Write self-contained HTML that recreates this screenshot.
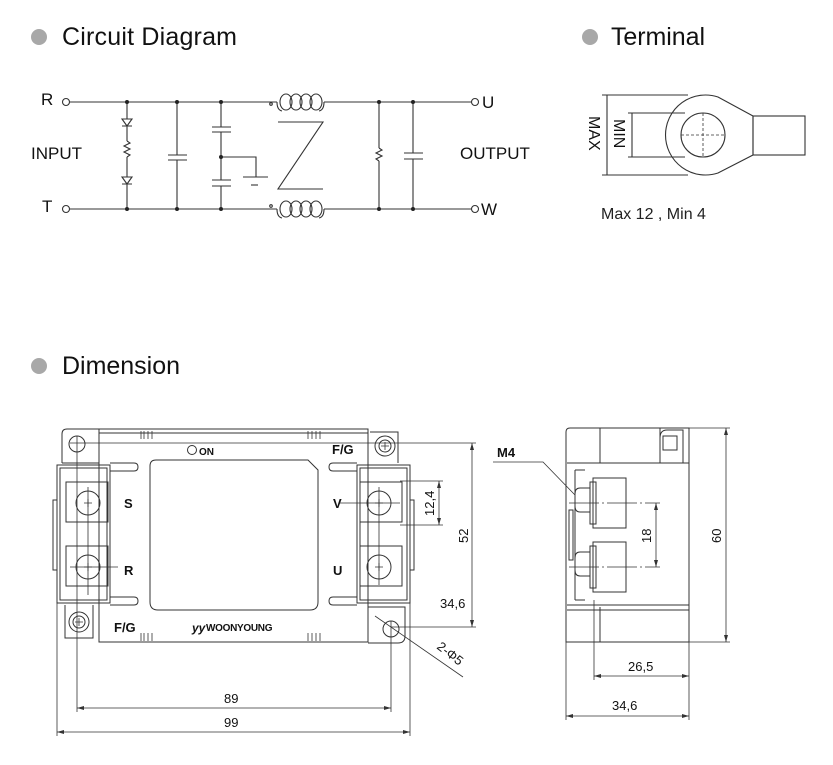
<!DOCTYPE html>
<html><head><meta charset="utf-8"><style>
html,body{margin:0;padding:0;background:#fff;}
svg{display:block;font-family:"Liberation Sans",sans-serif;}
</style></head><body>
<svg width="833" height="765" viewBox="0 0 833 765" xmlns="http://www.w3.org/2000/svg">
<!-- headers -->
<circle cx="39" cy="37" r="8" fill="#a8a8a8"/>
<text x="62" y="45" font-size="25" fill="#111" textLength="175">Circuit  Diagram</text>
<circle cx="590" cy="37" r="8" fill="#a8a8a8"/>
<text x="611" y="45" font-size="25" fill="#111" textLength="94">Terminal</text>
<circle cx="39" cy="366" r="8" fill="#a8a8a8"/>
<text x="62" y="374" font-size="25" fill="#111" textLength="118">Dimension</text>

<!-- circuit -->
<g stroke="#333" stroke-width="1.1" fill="none">
<circle cx="66" cy="102" r="3.5"/><circle cx="66" cy="209" r="3.5"/>
<circle cx="475" cy="102" r="3.5"/><circle cx="475" cy="209" r="3.5"/>
<line x1="70" y1="102" x2="277" y2="102"/><line x1="324" y1="102" x2="471" y2="102"/>
<line x1="70" y1="209" x2="277" y2="209"/><line x1="324" y1="209" x2="471" y2="209"/>
<g>
<path d="M277 102 q0 8 5 9"/><path d="M324 102 q0 8 -5 9"/>
<ellipse cx="286" cy="102" rx="6" ry="8"/><ellipse cx="296" cy="102" rx="6" ry="8"/>
<ellipse cx="306" cy="102" rx="6" ry="8"/><ellipse cx="316" cy="102" rx="6" ry="8"/>
<path d="M277 209 q0 8 5 9"/><path d="M324 209 q0 8 -5 9"/>
<ellipse cx="286" cy="209" rx="6" ry="8"/><ellipse cx="296" cy="209" rx="6" ry="8"/>
<ellipse cx="306" cy="209" rx="6" ry="8"/><ellipse cx="316" cy="209" rx="6" ry="8"/>
</g>
<circle cx="271" cy="104" r="1.3"/><circle cx="271" cy="206" r="1.3"/>
<path d="M278 122 H323 L278 189 H323"/>
<line x1="127" y1="102" x2="127" y2="119"/>
<path d="M122 119 H132 L127 126 Z M122 126 H132"/>
<line x1="127" y1="126" x2="127" y2="141"/>
<path d="M127 141 l3 2 l-6 3 l6 3 l-6 3 l6 3 l-3 2"/>
<line x1="127" y1="157" x2="127" y2="177"/>
<path d="M122 177 H132 L127 184 Z M122 184 H132"/>
<line x1="127" y1="184" x2="127" y2="209"/>
<line x1="177" y1="102" x2="177" y2="155"/><line x1="177" y1="160" x2="177" y2="209"/>
<line x1="168" y1="155" x2="187" y2="155"/><line x1="168" y1="160" x2="187" y2="160"/>
<line x1="221" y1="102" x2="221" y2="127"/><line x1="212" y1="127" x2="231" y2="127"/>
<line x1="212" y1="132" x2="231" y2="132"/><line x1="221" y1="132" x2="221" y2="180"/>
<line x1="212" y1="180" x2="231" y2="180"/><line x1="212" y1="186" x2="231" y2="186"/>
<line x1="221" y1="186" x2="221" y2="209"/>
<path d="M221 157 H256 V177"/>
<line x1="243" y1="177" x2="268" y2="177"/><line x1="251" y1="185" x2="258" y2="185"/>
<line x1="379" y1="102" x2="379" y2="148"/>
<path d="M379 148 l3 2 l-6 3 l6 3 l-6 3 l3 2"/>
<line x1="379" y1="161" x2="379" y2="209"/>
<line x1="413" y1="102" x2="413" y2="153"/><line x1="413" y1="159" x2="413" y2="209"/>
<line x1="404" y1="153" x2="423" y2="153"/><line x1="404" y1="159" x2="423" y2="159"/>
</g>
<g fill="#222">
<circle cx="127" cy="102" r="2"/><circle cx="177" cy="102" r="2"/><circle cx="221" cy="102" r="2"/>
<circle cx="127" cy="209" r="2"/><circle cx="177" cy="209" r="2"/><circle cx="221" cy="209" r="2"/>
<circle cx="221" cy="157" r="2"/><circle cx="379" cy="102" r="2"/><circle cx="413" cy="102" r="2"/>
<circle cx="379" cy="209" r="2"/><circle cx="413" cy="209" r="2"/>
</g>
<g font-size="17" fill="#111">
<text x="41" y="105">R</text><text x="42" y="212">T</text>
<text x="482" y="108">U</text><text x="481" y="215">W</text>
<text x="31" y="159">INPUT</text><text x="460" y="159">OUTPUT</text>
</g>

<!-- terminal -->
<g stroke="#333" stroke-width="1.1" fill="none">
<path d="M753 116 L718 97 A40 40 0 1 0 718 173 L753 155 Z"/>
<rect x="753" y="116" width="52" height="39"/>
<circle cx="703" cy="135" r="22"/>
<g stroke-dasharray="3 2" stroke-width="0.8"><line x1="703" y1="113" x2="703" y2="157"/><line x1="681" y1="135" x2="725" y2="135"/></g>
<line x1="602" y1="95" x2="688" y2="95"/><line x1="602" y1="175" x2="688" y2="175"/>
<line x1="607" y1="95" x2="607" y2="175"/>
<line x1="628" y1="113" x2="685" y2="113"/><line x1="628" y1="157" x2="685" y2="157"/>
<line x1="632" y1="113" x2="632" y2="157"/>
</g>
<text transform="translate(589,116) rotate(90)" font-size="16" fill="#111">MAX</text>
<text transform="translate(614,119) rotate(90)" font-size="16" fill="#111">MIN</text>
<text x="601" y="219" font-size="16" fill="#222">Max 12 , Min 4</text>

<!-- front view -->
<g stroke="#333" stroke-width="1" fill="none">
<rect x="99" y="429" width="269" height="213"/>
<line x1="99" y1="433" x2="368" y2="433"/>
<path d="M62 463 V434 q0 -5 5 -5 H99"/><line x1="62" y1="463" x2="99" y2="463"/>
<path d="M370 432 H398 V463"/>
<rect x="57" y="465" width="53" height="138"/><rect x="60" y="468" width="47" height="132"/>
<rect x="357" y="465" width="53" height="138"/><rect x="360" y="468" width="47" height="132"/>
<rect x="66" y="482" width="42" height="40"/><rect x="66" y="546" width="42" height="40"/>
<rect x="360" y="482" width="42" height="40"/><rect x="360" y="546" width="42" height="40"/>
<path d="M65 605 V638 H93 V605"/>
<path d="M368 607 H405 V636 q0 7 -7 7 H368"/>
<rect x="53" y="500" width="4" height="70"/><rect x="410" y="500" width="4" height="70"/>
<path d="M110 463 H134 q4 0 4 4 q0 4 -4 4 H110"/><path d="M110 605 H134 q4 0 4 -4 q0 -4 -4 -4 H110"/>
<path d="M357 463 H333 q-4 0 -4 4 q0 4 4 4 H357"/><path d="M357 605 H333 q-4 0 -4 -4 q0 -4 4 -4 H357"/>
<path d="M156 460 H308 L318 470 V602 q0 8 -8 8 H158 q-8 0 -8 -8 V466 q0 -6 6 -6 Z"/>
<circle cx="77" cy="444" r="8"/>
<circle cx="391" cy="629" r="8"/>
<circle cx="88" cy="503" r="12"/><circle cx="88" cy="567" r="12"/>
<circle cx="379" cy="503" r="12"/><circle cx="379" cy="567" r="12"/>
<circle cx="385" cy="446" r="10"/><circle cx="385" cy="446" r="6"/>
<circle cx="79" cy="622" r="10"/><circle cx="79" cy="622" r="6"/>
<circle cx="192" cy="450" r="4.5"/>
<g stroke-width="0.8">
<path d="M141 431 v8 M144 431 v8 M148 431 v8 M152 431 v8 M308 431 v8 M312 431 v8 M316 431 v8 M320 431 v8"/>
<path d="M141 633 v8 M144 633 v8 M148 633 v8 M152 633 v8 M308 633 v8 M312 633 v8 M316 633 v8 M320 633 v8"/>
<path d="M84 503 h8 M88 499 v8 M84 567 h8 M88 563 v8 M375 503 h8 M379 499 v8 M375 567 h8 M379 563 v8"/>
<path d="M381 446 h8 M385 442 v8 M75 622 h8 M79 618 v8"/>
</g>
<g stroke-width="0.8">
<line x1="77" y1="436" x2="77" y2="712"/><line x1="391" y1="621" x2="391" y2="712"/>
<line x1="57" y1="603" x2="57" y2="736"/><line x1="410" y1="603" x2="410" y2="736"/>
<line x1="77" y1="708" x2="391" y2="708"/><line x1="57" y1="732" x2="410" y2="732"/>
<line x1="70" y1="443" x2="476" y2="443"/><line x1="391" y1="627" x2="476" y2="627"/>
<line x1="472" y1="443" x2="472" y2="627"/>
<line x1="400" y1="481" x2="443" y2="481"/><line x1="400" y1="525" x2="443" y2="525"/>
<line x1="439" y1="481" x2="439" y2="525"/>
<line x1="375" y1="616" x2="463" y2="677"/>
<line x1="88" y1="487" x2="88" y2="595"/><line x1="70" y1="567" x2="118" y2="567"/>
<line x1="340" y1="503" x2="400" y2="503"/><line x1="379" y1="487" x2="379" y2="585"/>
</g>
</g>
<g fill="#333">
<path d="M77 708 l7 -2 v4 Z M391 708 l-7 -2 v4 Z M57 732 l7 -2 v4 Z M410 732 l-7 -2 v4 Z"/>
<path d="M472 443 l-2 7 h4 Z M472 627 l-2 -7 h4 Z M439 481 l-2 7 h4 Z M439 525 l-2 -7 h4 Z"/>
</g>
<g font-size="13" fill="#111" font-weight="bold">
<text x="124" y="508">S</text><text x="124" y="575">R</text>
<text x="333" y="508">V</text><text x="333" y="575">U</text>
<text x="332" y="454">F/G</text><text x="114" y="632">F/G</text>
<text x="199" y="455" font-size="10">ON</text>
<text x="192" y="632" font-size="12" font-style="italic">yy</text>
<text x="206" y="631" font-size="10" letter-spacing="-0.3">WOONYOUNG</text>
<text x="224" y="703" font-size="13" font-weight="normal">89</text>
<text x="224" y="727" font-size="13" font-weight="normal">99</text>
<text x="440" y="608" font-size="13" font-weight="normal">34,6</text>
</g>
<text transform="translate(468,543) rotate(-90)" font-size="13" fill="#111">52</text>
<text transform="translate(434,516) rotate(-90)" font-size="13" fill="#111">12,4</text>
<text transform="translate(436,648) rotate(38)" font-size="13" fill="#111">2-Φ5</text>

<!-- side view -->
<g stroke="#333" stroke-width="1" fill="none">
<path d="M566 642 V432 q0 -4 4 -4 H689 V642 Z"/>
<line x1="600" y1="428" x2="600" y2="463"/><line x1="600" y1="607" x2="600" y2="642"/>
<line x1="567" y1="463" x2="689" y2="463"/><line x1="567" y1="605" x2="689" y2="605"/>
<line x1="567" y1="610" x2="689" y2="610"/>
<rect x="593" y="478" width="33" height="50"/><rect x="590" y="482" width="6" height="42"/>
<rect x="593" y="542" width="33" height="50"/><rect x="590" y="546" width="6" height="42"/>
<path d="M590 488 H580 q-5 0 -5 6 v12 q0 6 5 6 H590"/>
<path d="M590 552 H580 q-5 0 -5 6 v12 q0 6 5 6 H590"/>
<path d="M575 470 V600 M575 470 H585 M575 600 H585"/>
<rect x="569" y="510" width="4" height="50"/>
<path d="M660 428 V463 M660 438 q0 -8 7 -8 H683 V463"/>
<rect x="663" y="436" width="14" height="14"/>
<g stroke-width="0.8">
<line x1="569" y1="503" x2="660" y2="503" stroke-dasharray="30 3 2 3"/>
<line x1="569" y1="567" x2="660" y2="567" stroke-dasharray="30 3 2 3"/>
<line x1="656" y1="503" x2="656" y2="567"/>
<line x1="689" y1="428" x2="730" y2="428"/><line x1="689" y1="642" x2="730" y2="642"/>
<line x1="726" y1="428" x2="726" y2="642"/>
<line x1="594" y1="600" x2="594" y2="680"/><line x1="689" y1="642" x2="689" y2="720"/>
<line x1="566" y1="642" x2="566" y2="720"/>
<line x1="594" y1="676" x2="689" y2="676"/><line x1="566" y1="716" x2="689" y2="716"/>
<path d="M493 462 H543 L575 495"/>
</g>
</g>
<g fill="#333">
<path d="M656 503 l-2 7 h4 Z M656 567 l-2 -7 h4 Z M726 428 l-2 7 h4 Z M726 642 l-2 -7 h4 Z"/>
<path d="M594 676 l7 -2 v4 Z M689 676 l-7 -2 v4 Z M566 716 l7 -2 v4 Z M689 716 l-7 -2 v4 Z"/>
</g>
<g font-size="13" fill="#111">
<text x="497" y="457" font-weight="bold">M4</text>
<text x="628" y="671">26,5</text>
<text x="612" y="710">34,6</text>
</g>
<text transform="translate(651,543) rotate(-90)" font-size="13" fill="#111">18</text>
<text transform="translate(721,543) rotate(-90)" font-size="13" fill="#111">60</text>
</svg>
</body></html>
